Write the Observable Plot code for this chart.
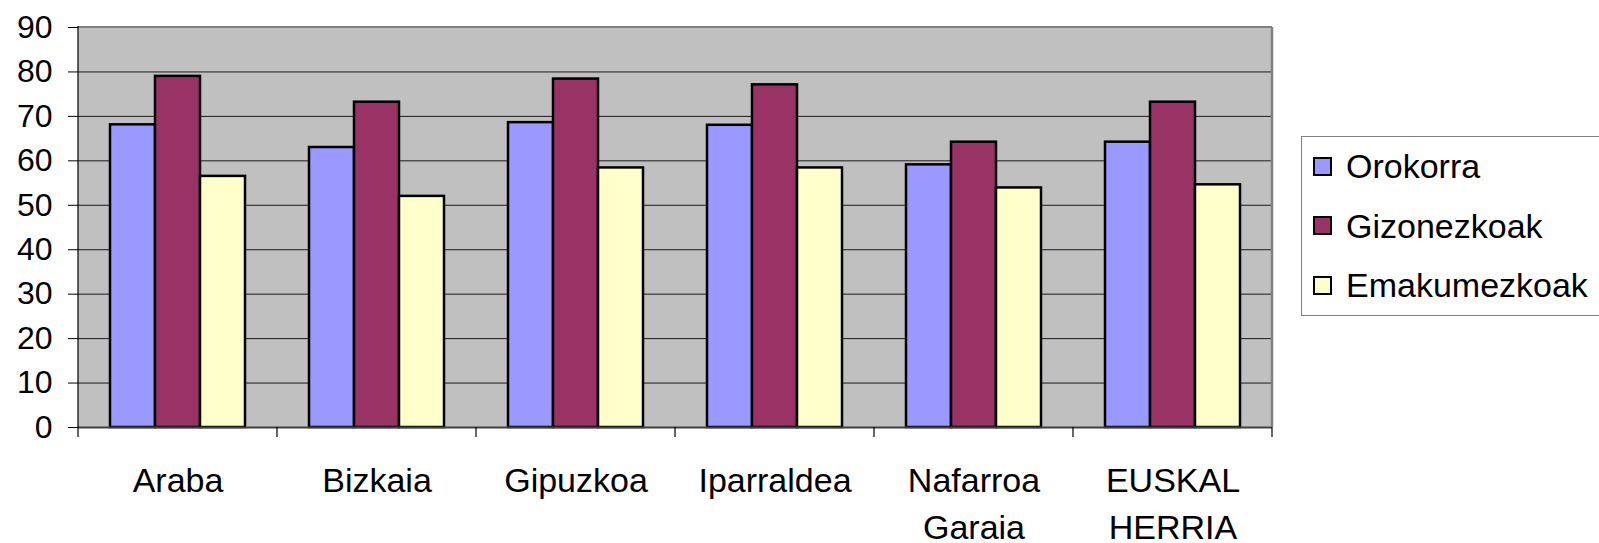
<!DOCTYPE html>
<html><head><meta charset="utf-8">
<script src="https://cdn.jsdelivr.net/npm/d3@7"></script>
<script src="https://cdn.jsdelivr.net/npm/@observablehq/plot@0.6"></script>
<style>
html,body{margin:0;padding:0;background:#fff;overflow:hidden;}
#wrap{position:relative;width:1599px;height:543px;font-family:"Liberation Sans",Arial,sans-serif;}
#wrap svg{display:block;}
#legend{position:absolute;left:1301px;top:136px;width:330px;height:180px;border:1px solid #808080;box-sizing:border-box;background:#fff;}
.item{position:absolute;left:11px;display:flex;align-items:center;font-size:34px;line-height:40px;color:#000;white-space:nowrap;}
.sw{width:19px;height:19px;border:2px solid #000;box-sizing:border-box;margin-right:14px;flex:none;}
</style></head><body><div id="wrap"></div>
<script>
const regions = ["Araba", "Bizkaia", "Gipuzkoa", "Iparraldea", "Nafarroa\nGaraia", "EUSKAL\nHERRIA"];
const series = ["Orokorra", "Gizonezkoak", "Emakumezkoak"];
const orokorra = [68.1, 63.0, 68.6, 68.0, 59.1, 64.2];
const gizonezkoak = [79.0, 73.2, 78.4, 77.1, 64.2, 73.2];
const emakumezkoak = [56.5, 52.0, 58.4, 58.4, 53.9, 54.6];
const colors = ["#9999FF", "#993366", "#FFFFCC"];
const yTicks = [0, 10, 20, 30, 40, 50, 60, 70, 80, 90];

const valuesBySeries = [orokorra, gizonezkoak, emakumezkoak];
const data = [];
regions.forEach((r, i) => series.forEach((s, j) => data.push({region: r, series: s, value: valuesBySeries[j][i]})));

const chart = Plot.plot({
  width: 1599,
  height: 543,
  marginLeft: 78,
  marginRight: 327,
  marginTop: 27,
  marginBottom: 116,
  style: {fontFamily: "'Liberation Sans', Arial, sans-serif", color: "#000", background: "#fff"},
  fx: {domain: regions, padding: 0, label: null},
  x: {domain: series, paddingInner: 0, paddingOuter: 0.71, axis: null},
  y: {domain: [0, 90], label: null},
  color: {domain: series, range: colors},
  marks: [
    Plot.ruleY(yTicks.slice(1, -1), {stroke: "#1a1a1a", strokeWidth: 1}),
    Plot.barY(data, {fx: "region", x: "series", y: "value", fill: "series", stroke: "#000", strokeWidth: 2.5}),
    Plot.ruleY([0], {stroke: "#404040", strokeWidth: 2}),
    Plot.axisY({ticks: yTicks, tickSize: 10, tickPadding: 16, fontSize: 32, label: null, tickFormat: d => String(d)}),
    Plot.axisFx({anchor: "bottom", tickSize: 0, tickPadding: 31, fontSize: 34, lineHeight: 1.38, label: null})
  ]
});

// plot background, border, left axis line and category boundary ticks, positioned from the plot's scales
const fx = chart.scale("fx");
const y = chart.scale("y");
const bounds = regions.map(r => fx.apply(r));
bounds.push(fx.apply(regions[regions.length - 1]) + fx.bandwidth);
const svg = d3.select(chart);
const y0 = y.apply(0), yTop = y.apply(90);
svg.insert("rect", "g")
  .attr("x", bounds[0]).attr("y", yTop)
  .attr("width", bounds[bounds.length - 1] - bounds[0]).attr("height", y0 - yTop)
  .attr("fill", "#c0c0c0");
const g = svg.append("g");
g.append("line").attr("x1", bounds[0]).attr("x2", bounds[bounds.length - 1]).attr("y1", yTop).attr("y2", yTop)
  .attr("stroke", "#808080").attr("stroke-width", 2);
g.append("line").attr("x1", bounds[bounds.length - 1]).attr("x2", bounds[bounds.length - 1]).attr("y1", yTop).attr("y2", y0)
  .attr("stroke", "#808080").attr("stroke-width", 2.5);
g.append("line").attr("x1", bounds[0]).attr("x2", bounds[0]).attr("y1", yTop - 1).attr("y2", y0 + 10)
  .attr("stroke", "#000").attr("stroke-width", 1.2);
bounds.slice(1).forEach(b => {
  g.append("line").attr("x1", b).attr("x2", b).attr("y1", y0).attr("y2", y0 + 10)
    .attr("stroke", "#000").attr("stroke-width", 1.2);
});

const wrap = document.getElementById("wrap");
wrap.appendChild(chart);

const legend = document.createElement("div");
legend.id = "legend";
series.forEach((s, i) => {
  const item = document.createElement("div");
  item.className = "item";
  item.style.top = (9 + i * 59.5) + "px";
  const sw = document.createElement("span");
  sw.className = "sw";
  sw.style.background = colors[i];
  const t = document.createElement("span");
  t.textContent = s;
  item.appendChild(sw);
  item.appendChild(t);
  legend.appendChild(item);
});
wrap.appendChild(legend);
</script>
</body></html>
